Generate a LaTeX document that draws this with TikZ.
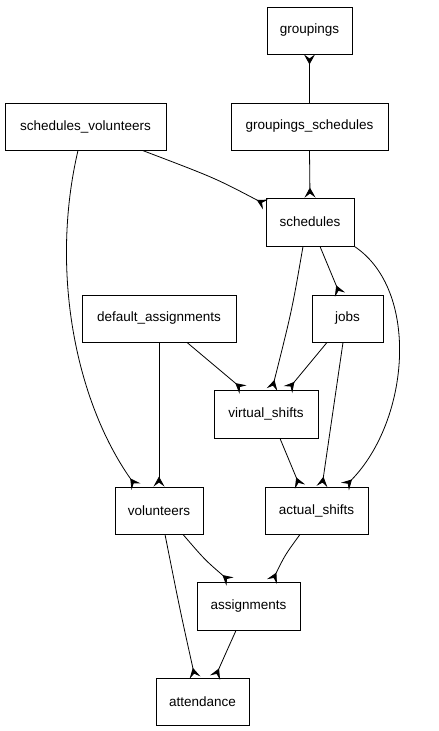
\documentclass[tikz,border=0pt]{standalone}
\usepackage{fontspec}
\setmainfont{Liberation Sans}
\usetikzlibrary{arrows.meta}
\begin{document}
\begin{tikzpicture}[x=1pt,y=-1pt,
  box/.style={draw,line width=0.9pt,inner sep=0pt,font=\fontsize{13.5}{16}\selectfont},
  rel/.style={line width=0.8pt,-{Stealth[reversed,length=10pt,width=11pt,inset=4pt]}}]
\useasboundingbox[fill=white] (0,0) rectangle (439,731);
\node[box,minimum width=85pt,minimum height=47pt] (grp) at (309.5,30.5) {groupings};
\node[box,minimum width=161pt,minimum height=47pt] (sv) at (85.5,126.5) {schedules\_volunteers};
\node[box,minimum width=157pt,minimum height=47pt] (gs) at (309.5,126.5) {groupings\_schedules};
\node[box,minimum width=88pt,minimum height=48pt] (sch) at (310,222) {schedules};
\node[box,minimum width=154pt,minimum height=47pt] (da) at (159,318.5) {default\_assignments};
\node[box,minimum width=71pt,minimum height=47pt] (jobs) at (347.5,318.5) {jobs};
\node[box,minimum width=104pt,minimum height=48pt] (vs) at (266,414) {virtual\_shifts};
\node[box,minimum width=88pt,minimum height=47pt] (vol) at (159,510.5) {volunteers};
\node[box,minimum width=103pt,minimum height=47pt] (as) at (316.5,510.5) {actual\_shifts};
\node[box,minimum width=103pt,minimum height=48pt] (asg) at (248.5,606) {assignments};
\node[box,minimum width=93pt,minimum height=47pt] (att) at (202.5,701.5) {attendance};

\draw[rel] (gs.north) -- (grp.south);
\draw[rel] (gs.south) -- (sch.north);
\draw[rel] ([xshift=57pt]sv.south) .. controls (215,178) .. ([yshift=-7pt]sch.north west);
\draw[rel] ([xshift=10pt]sch.south) -- ([xshift=-7.5pt]jobs.north);
\draw[rel] ([xshift=-7pt]sch.south) .. controls (292,310) .. ([xshift=6pt]vs.north);
\draw[rel] (sch.south east) .. controls (420,290) and (410,420) .. ([xshift=28.5pt]as.north);
\draw[rel] ([xshift=28pt]da.south) -- ([xshift=-23pt]vs.north);
\draw[rel] ([xshift=-20.5pt]jobs.south) -- ([xshift=22pt]vs.north);
\draw[rel] ([xshift=-4.5pt]jobs.south) -- ([xshift=5.5pt]as.north);
\draw[rel] (da.south) -- (vol.north);
\draw[rel] ([xshift=-7.5pt]sv.south) .. controls (50,270) and (75,400) .. ([xshift=-23pt]vol.north);
\draw[rel] ([xshift=14pt]vs.south) -- ([xshift=-16.5pt]as.north);
\draw[rel] ([xshift=24pt]vol.south) .. controls (205,560) .. ([xshift=-18.5pt]asg.north);
\draw[rel] ([xshift=-16.5pt]as.south) .. controls (285,555) .. ([xshift=23.5pt]asg.north);
\draw[rel] ([xshift=6pt]vol.south) .. controls (180,610) .. ([xshift=-7.5pt]att.north);
\draw[rel] ([xshift=-12.5pt]asg.south) .. controls (225,655) .. ([xshift=12.5pt]att.north);
\end{tikzpicture}
\end{document}
